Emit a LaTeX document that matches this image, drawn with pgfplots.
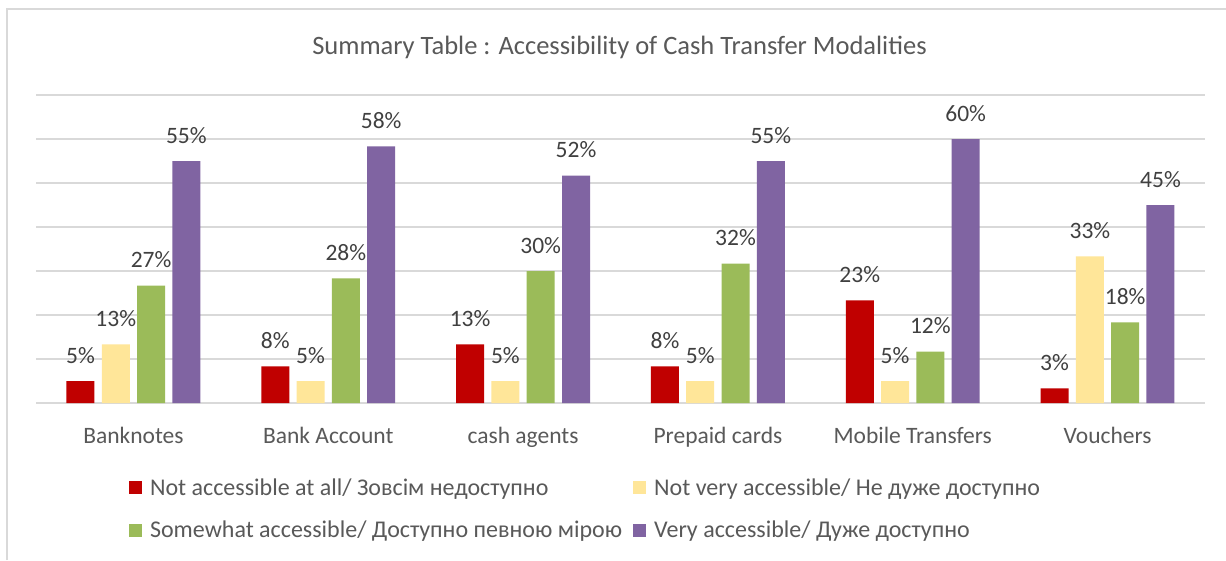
\documentclass[border=0pt]{standalone}
\usepackage{pgfplots}
\pgfplotsset{compat=1.18}
\usepackage{fontspec}
\setmainfont{Carlito}
\definecolor{cRed}{HTML}{C00000}
\definecolor{cYel}{HTML}{FFE699}
\definecolor{cGrn}{HTML}{9BBB59}
\definecolor{cPur}{HTML}{8064A2}
\definecolor{txt}{HTML}{595959}
\definecolor{lbl}{HTML}{404040}
\definecolor{gridc}{HTML}{D9D9D9}
\begin{document}
\begin{tikzpicture}
\useasboundingbox (0,0) rectangle (1226pt,560pt);
\fill[white] (0,0) rectangle (1226pt,560pt);
\draw[gridc, line width=1.3pt] (7pt,0pt) -- (7pt,551pt) -- (1226pt,551pt);
\node[anchor=base, text=txt, font=\fontsize{26.5}{31}\selectfont] at (619.5pt,505.3pt) {Summary Table : Accessibility of Cash Transfer Modalities};
\begin{axis}[
  at={(36pt,157pt)}, anchor=south west,
  scale only axis, width=1169pt, height=308pt,
  xmin=-0.5, xmax=5.5, ymin=0, ymax=70,
  ybar=7.3pt, bar width=28pt,
  axis line style={draw=none},
  ytick={0,10,...,70}, yticklabels={},
  ymajorgrids, grid style={gridc, line width=1.3pt},
  major tick length=0pt,
  xtick={0,...,5},
  xticklabels={Banknotes, Bank Account, cash agents, Prepaid cards, Mobile Transfers, Vouchers},
  xticklabel style={font=\fontsize{23.5}{28}\selectfont, text=txt, anchor=base, inner sep=0pt, yshift=-40pt},
  nodes near coords={\pgfmathprintnumber[fixed,precision=0,assume math mode=true]{\pgfplotspointmeta}\%},
  nodes near coords style={font=\fontsize{23.5}{28}\selectfont, text=lbl, anchor=base, inner sep=0pt, yshift=18pt},
  legend columns=2,
  legend cell align=left,
  legend image code/.code={\fill[#1] (0pt,-5pt) rectangle (13pt,8pt); \path (21pt,0pt);},
  legend style={draw=none, fill=none, inner sep=0pt, outer sep=0pt,
    at={(0.0796,-0.2435)}, anchor=north west,
    font=\fontsize{24}{28}\selectfont, text=txt, row sep=20pt,
    nodes={inner sep=0pt, text height=17pt, text depth=6pt},
    /tikz/every odd column/.append style={column sep=0pt},
    /tikz/every even column/.append style={column sep=11pt}},
]
\addplot[fill=cRed, draw=none] coordinates {(0,5) (1,8.33) (2,13.33) (3,8.33) (4,23.33) (5,3.33)};
\addplot[fill=cYel, draw=none] coordinates {(0,13.33) (1,5) (2,5) (3,5) (4,5) (5,33.33)};
\addplot[fill=cGrn, draw=none] coordinates {(0,26.67) (1,28.33) (2,30) (3,31.67) (4,11.67) (5,18.33)};
\addplot[fill=cPur, draw=none] coordinates {(0,55) (1,58.33) (2,51.67) (3,55) (4,60) (5,45)};
\legend{Not accessible at all/ Зовсім недоступно, Not very accessible/ Не дуже доступно, Somewhat accessible/ Доступно певною мірою, Very accessible/ Дуже доступно}
\end{axis}
\end{tikzpicture}
\end{document}
